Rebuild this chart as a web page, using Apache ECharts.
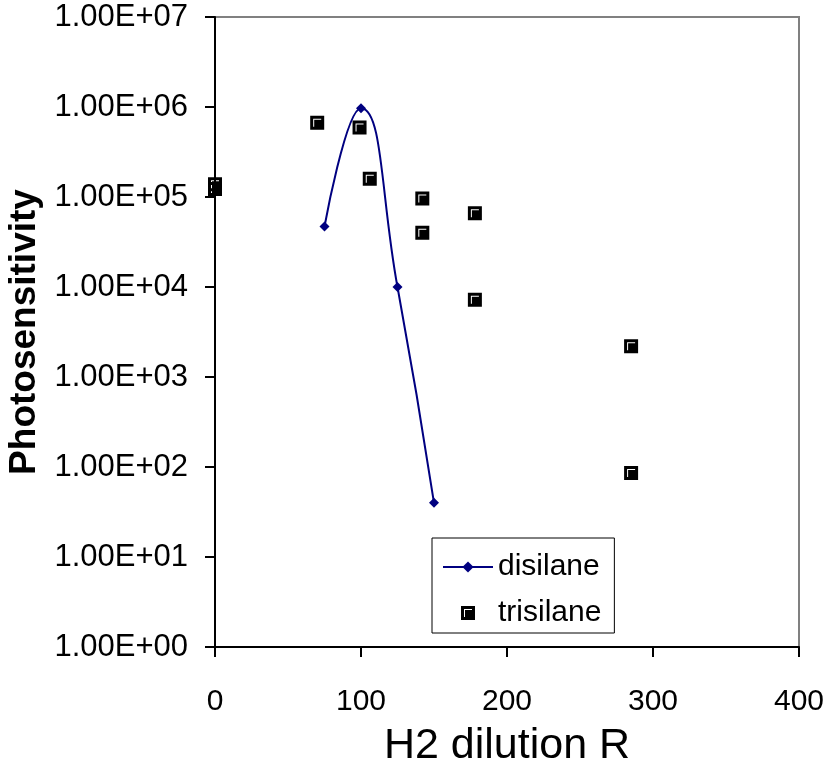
<!DOCTYPE html>
<html>
<head>
<meta charset="utf-8">
<script src="https://cdn.jsdelivr.net/npm/echarts@6/dist/echarts.min.js"></script>
<style>
  html, body { margin: 0; padding: 0; background: #fff; }
  #chart { width: 828px; height: 767px; }
</style>
</head>
<body>
<div id="chart"></div>
<script>
// Hydrogen dilution (R) for each film
const disilaneR = [75, 100, 125, 150];
const disilanePS = [4.7e4, 9.7e5, 1.0e4, 40];

const trisilaneR = [0, 0, 70, 99, 106, 142, 142, 178, 178, 285, 285];
const trisilanePS = [1.39e5, 1.23e5, 6.7e5, 5.9e5, 1.6e5, 9.6e4, 4.0e4, 6.6e4, 7.2e3, 2.2e3, 86];

// Axis settings
const xTicks = { min: 0, max: 400, interval: 100 };
const yRange = { min: 1, max: 1e7 };

const FONT = "'Liberation Sans', Arial, Helvetica, sans-serif";

// Excel-style scientific label, e.g. 1.00E+05
function sci(v) {
  const e = Math.round(Math.log10(v));
  const m = v / Math.pow(10, e);
  return m.toFixed(2) + 'E' + (e < 0 ? '-' : '+') + String(Math.abs(e)).padStart(2, '0');
}

// Black square with a white inner corner (hole cut by opposite winding)
const squareMark = 'path://M0 0L14 0L14 14L0 14Z M3 3L3 11L4 11L4 4L11 4L11 3Z';

const chart = echarts.init(document.getElementById('chart'), null, { renderer: 'canvas' });

chart.setOption({
  animation: false,
  backgroundColor: '#ffffff',
  grid: {
    left: 215, top: 17, right: 29, bottom: 120,
    outerBoundsMode: 'none',
    containLabel: false,
    show: true, borderColor: '#808080', borderWidth: 2, backgroundColor: 'transparent'
  },
  xAxis: {
    type: 'value',
    min: xTicks.min, max: xTicks.max, interval: xTicks.interval,
    name: 'H2 dilution R',
    nameLocation: 'middle',
    nameGap: 78,
    nameTextStyle: { fontFamily: FONT, fontSize: 43, color: '#000' },
    axisLine: { onZero: false, lineStyle: { color: '#000', width: 2 } },
    axisTick: { inside: false, length: 10, lineStyle: { color: '#000', width: 2 } },
    axisLabel: { margin: 40, fontFamily: FONT, fontSize: 30, color: '#000' },
    splitLine: { show: false }
  },
  yAxis: {
    type: 'log',
    logBase: 10,
    min: yRange.min, max: yRange.max,
    name: 'Photosensitivity',
    nameLocation: 'middle',
    nameRotate: 90,
    nameGap: 172,
    nameTextStyle: { fontFamily: FONT, fontSize: 37, fontWeight: 'bold', color: '#000' },
    axisLine: { lineStyle: { color: '#000', width: 2 } },
    axisTick: { inside: false, length: 10, lineStyle: { color: '#000', width: 2 } },
    axisLabel: {
      margin: 27, fontFamily: FONT, fontSize: 31, color: '#000',
      padding: [6, 0, 0, 0],
      formatter: sci
    },
    splitLine: { show: false }
  },
  legend: {
    orient: 'vertical',
    left: 432, top: 538,
    padding: [14, 13, 5, 10],
    itemGap: 16,
    itemWidth: 50,
    itemHeight: 14,
    borderColor: '#000',
    borderWidth: 1,
    backgroundColor: '#fff',
    textStyle: { fontFamily: FONT, fontSize: 30, color: '#000' },
    data: ['disilane', 'trisilane']
  },
  series: [
    {
      name: 'disilane',
      type: 'line',
      smooth: true,
      data: disilaneR.map((r, i) => [r, disilanePS[i]]),
      symbol: 'diamond',
      symbolSize: 10,
      lineStyle: { color: '#000080', width: 2 },
      itemStyle: { color: '#000080' }
    },
    {
      name: 'trisilane',
      type: 'scatter',
      data: trisilaneR.map((r, i) => [r, trisilanePS[i]]),
      symbol: squareMark,
      symbolSize: 14,
      itemStyle: { color: '#000', opacity: 1 }
    }
  ]
});
</script>
</body>
</html>
